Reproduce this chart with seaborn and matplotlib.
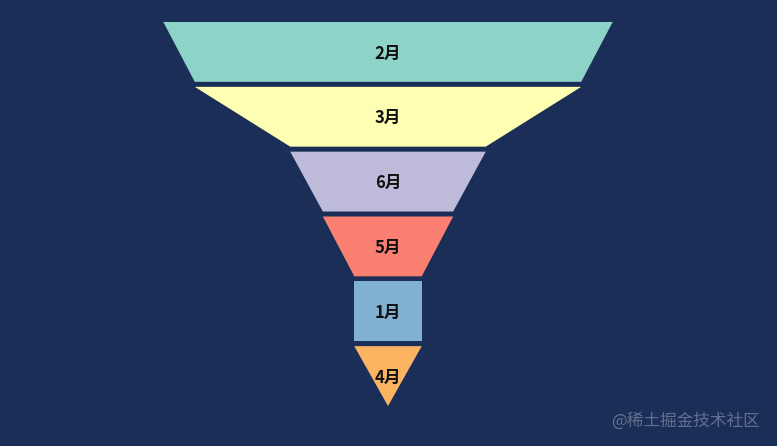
import numpy as np
import matplotlib
matplotlib.use('Agg')
import matplotlib.pyplot as plt
import seaborn as sns

# funnel data, in display order (top -> bottom)
months = ['2月', '3月', '6月', '5月', '1月', '4月']
values = [100, 86, 43.5, 29, 15, 15]

bg = '#1b2e57'
colors = sns.color_palette('Set3', 6)

sns.set_theme(style='white')
plt.rcParams['font.family'] = ['Noto Sans CJK SC', 'DejaVu Sans']

fig = plt.figure(figsize=(7.77, 4.46), dpi=100)
fig.patch.set_facecolor(bg)

# axes spans the funnel area only
ax = fig.add_axes([163.3 / 777, 40 / 446, 449.4 / 777, 384 / 446])
ax.set_facecolor(bg)
ax.axis('off')

n = len(values)
gap = 5 / 64.8          # gap between segments, in segment units
seg_h = 1 - gap
vmax = max(values)

for i, (m, v) in enumerate(zip(months, values)):
    nxt = values[i + 1] if i + 1 < n else 0
    top = v / vmax * 50
    bot = nxt / vmax * 50
    y0 = i
    y1 = i + seg_h
    ax.fill([-top, top, bot, -bot], [y0, y0, y1, y1], color=colors[i], lw=0)
    # small nudge down, CJK glyph boxes sit a bit high
    ax.text(0, (y0 + y1) / 2 + 0.025, m, ha='center', va='center',
            fontsize=12, fontweight='bold', color='#111111')

ax.set_xlim(-50, 50)
ax.set_ylim(n - gap, 0)

fig.text(760 / 777, 1 - 421.5 / 446, '@稀土掘金技术社区', ha='right', va='center',
         fontsize=12, color='#62718f')

fig.savefig('out.png', dpi=100, facecolor=bg)
